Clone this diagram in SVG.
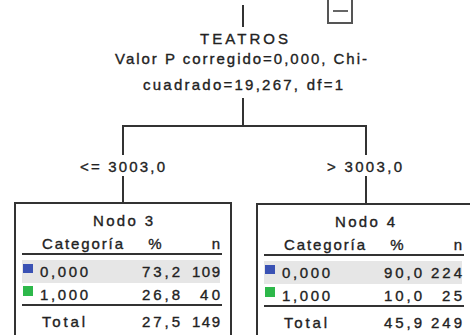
<svg xmlns="http://www.w3.org/2000/svg" width="470" height="335" viewBox="0 0 470 335">
  <style>
    text { font-family: "Liberation Sans", Arial, sans-serif; font-size: 15px; fill: #222; stroke: #222; stroke-width: 0.35; }
    .mid { text-anchor: middle; }
    .end { text-anchor: end; }
    .wire { fill: none; stroke: #333; stroke-width: 2; }
    .frame { fill: #fff; stroke: #333; stroke-width: 2; }
    .rule { stroke: #333; stroke-width: 2; }
    .band { fill: #e6e6e6; }
    .c0 { fill: #3a52b4; }
    .c1 { fill: #2db84a; }
  </style>

  <!-- split node: TEATROS -->
  <g id="node-teatros">
    <path d="M328 0 V23 H352 V0" fill="none" stroke="#555" stroke-width="2"/>
    <line x1="333" y1="11" x2="348" y2="11" stroke="#666" stroke-width="2"/>
    <text class="mid" x="244" y="44" textLength="88" lengthAdjust="spacing">TEATROS</text>
    <text class="mid" x="241" y="64" textLength="252" lengthAdjust="spacing">Valor P corregido=0,000, Chi-</text>
    <text class="mid" x="243" y="90" textLength="200" lengthAdjust="spacing">cuadrado=19,267, df=1</text>
  </g>

  <!-- connectors -->
  <g id="connectors">
    <path class="wire" d="M243 5 V27"/>
    <path class="wire" d="M243 98 V126 M123 126 H366 M123 125 V155 M123 176 V203 M366 125 V155 M366 176 V204"/>
    <text class="mid" x="122.5" y="172" textLength="85" lengthAdjust="spacing">&lt;= 3003,0</text>
    <text class="mid" x="364.5" y="172" textLength="75" lengthAdjust="spacing">&gt; 3003,0</text>
  </g>

  <!-- Nodo 3 -->
  <g id="node-3">
    <rect class="frame" x="15" y="203" width="216" height="140"/>
    <text class="mid" x="123" y="226" textLength="60" lengthAdjust="spacing">Nodo 3</text>
    <text x="42" y="249" textLength="81" lengthAdjust="spacing">Categoría</text>
    <text class="mid" x="155" y="249">%</text>
    <text class="end" x="220" y="249">n</text>
    <line class="rule" x1="22" y1="254" x2="222" y2="254"/>
    <rect class="band" x="22" y="260" width="198" height="23"/>
    <rect class="c0" x="23" y="264" width="10" height="9"/>
    <text x="40" y="277" textLength="48" lengthAdjust="spacing">0,000</text>
    <text class="end" x="180" y="277" textLength="38" lengthAdjust="spacing">73,2</text>
    <text class="end" x="220" y="277" textLength="28" lengthAdjust="spacing">109</text>
    <rect class="c1" x="23" y="286" width="10" height="10"/>
    <text x="40" y="300" textLength="48" lengthAdjust="spacing">1,000</text>
    <text class="end" x="180" y="300" textLength="38" lengthAdjust="spacing">26,8</text>
    <text class="end" x="220" y="300" textLength="20" lengthAdjust="spacing">40</text>
    <line class="rule" x1="22" y1="305" x2="222" y2="305"/>
    <text x="42" y="327" textLength="43" lengthAdjust="spacing">Total</text>
    <text class="end" x="180" y="327" textLength="38" lengthAdjust="spacing">27,5</text>
    <text class="end" x="220" y="327" textLength="28" lengthAdjust="spacing">149</text>
  </g>

  <!-- Nodo 4 -->
  <g id="node-4" transform="translate(242 1)">
    <rect class="frame" x="15" y="203" width="216" height="140"/>
    <text class="mid" x="123" y="226" textLength="60" lengthAdjust="spacing">Nodo 4</text>
    <text x="42" y="249" textLength="81" lengthAdjust="spacing">Categoría</text>
    <text class="mid" x="155" y="249">%</text>
    <text class="end" x="220" y="249">n</text>
    <line class="rule" x1="22" y1="254" x2="222" y2="254"/>
    <rect class="band" x="22" y="260" width="198" height="23"/>
    <rect class="c0" x="23" y="264" width="10" height="9"/>
    <text x="40" y="277" textLength="48" lengthAdjust="spacing">0,000</text>
    <text class="end" x="180" y="277" textLength="38" lengthAdjust="spacing">90,0</text>
    <text class="end" x="220" y="277" textLength="31" lengthAdjust="spacing">224</text>
    <rect class="c1" x="23" y="286" width="10" height="10"/>
    <text x="40" y="300" textLength="48" lengthAdjust="spacing">1,000</text>
    <text class="end" x="180" y="300" textLength="38" lengthAdjust="spacing">10,0</text>
    <text class="end" x="220" y="300" textLength="20" lengthAdjust="spacing">25</text>
    <line class="rule" x1="22" y1="305" x2="222" y2="305"/>
    <text x="42" y="327" textLength="43" lengthAdjust="spacing">Total</text>
    <text class="end" x="180" y="327" textLength="38" lengthAdjust="spacing">45,9</text>
    <text class="end" x="220" y="327" textLength="31" lengthAdjust="spacing">249</text>
  </g>
</svg>
